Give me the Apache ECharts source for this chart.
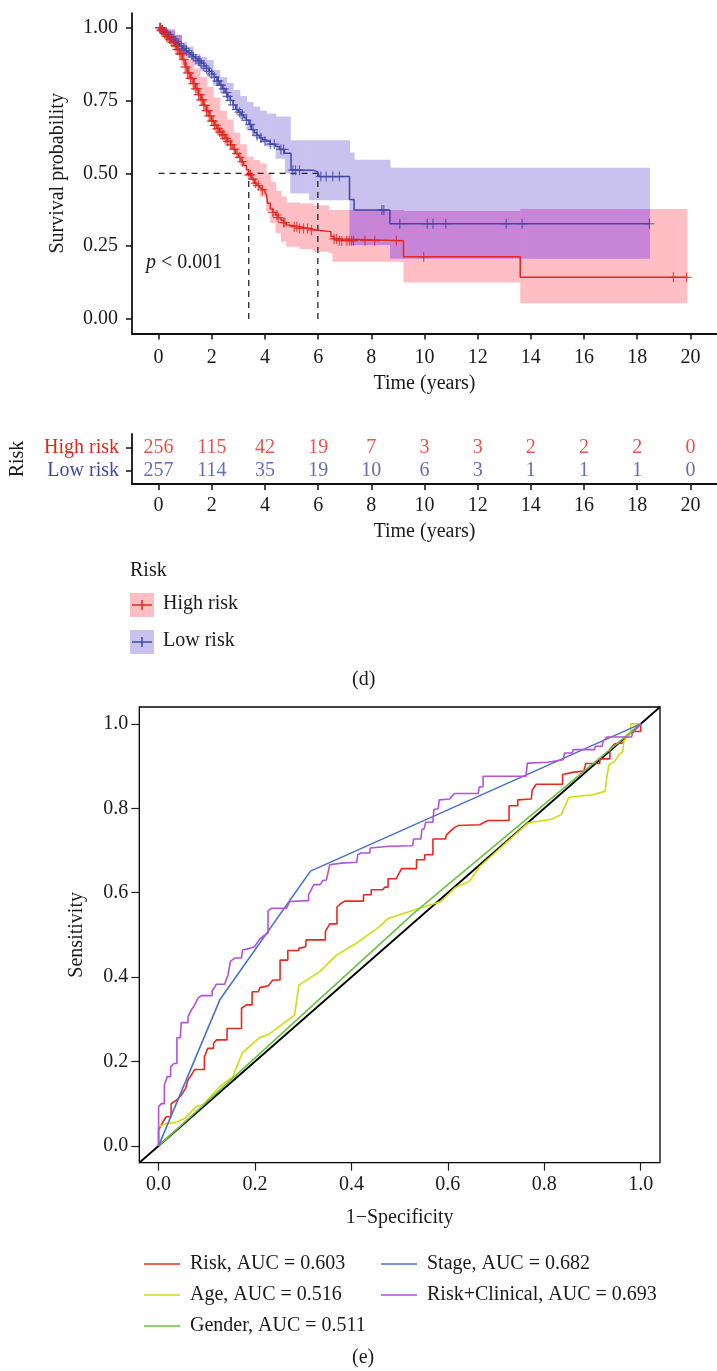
<!DOCTYPE html>
<html>
<head>
<meta charset="utf-8">
<script src="https://cdn.jsdelivr.net/npm/echarts@6/dist/echarts.min.js"></script>
<style>
html,body{margin:0;padding:0;background:#fff;}
#main{width:717px;height:1371px;}
</style>
</head>
<body>
<div id="main"></div>
<script>
// ---- KM data ----
var kmTicks = [0,2,4,6,8,10,12,14,16,18,20];
var survTicks = [0,0.25,0.5,0.75,1];
var highTimes = [0,0.1,0.2,0.3,0.4,0.5,0.6,0.7,0.8,0.9,1.0,1.1,1.2,1.3,1.4,1.5,1.6,1.7,1.8,1.9,2.0,2.1,2.2,2.3,2.4,2.5,2.6,2.7,2.8,2.9,3.0,3.1,3.2,3.3,3.39,3.5,3.6,3.7,3.8,3.9,4.0,4.06,4.1,4.2,4.3,4.4,4.5,4.6,4.7,4.8,4.9,5.3,5.65,5.98,6.48,6.6,6.8,9.21,13.6];
var highSurv  = [1,0.99,0.98,0.97,0.96,0.95,0.938,0.925,0.91,0.89,0.865,0.845,0.826,0.808,0.79,0.77,0.752,0.733,0.715,0.697,0.679,0.665,0.653,0.642,0.632,0.62,0.61,0.598,0.583,0.568,0.555,0.54,0.527,0.512,0.495,0.48,0.466,0.458,0.45,0.443,0.435,0.425,0.397,0.378,0.366,0.357,0.348,0.339,0.331,0.323,0.317,0.311,0.305,0.30,0.283,0.275,0.269,0.214,0.143];
var highEnd = 19.86;
var lowTimes = [0,0.1,0.2,0.3,0.4,0.5,0.6,0.7,0.8,0.9,1.0,1.1,1.2,1.3,1.4,1.5,1.6,1.7,1.8,1.9,2.0,2.1,2.2,2.3,2.4,2.5,2.6,2.7,2.8,2.9,3.0,3.1,3.2,3.3,3.4,3.5,3.6,3.7,3.8,3.9,4.0,4.2,4.4,4.55,4.73,4.98,5.79,5.98,6.04,7.18,7.35,8.7];
var lowSurv  = [1,0.992,0.985,0.977,0.969,0.961,0.953,0.945,0.937,0.929,0.921,0.914,0.907,0.9,0.893,0.886,0.878,0.869,0.86,0.85,0.841,0.83,0.817,0.803,0.79,0.777,0.764,0.75,0.735,0.719,0.71,0.701,0.692,0.682,0.668,0.65,0.639,0.63,0.622,0.615,0.61,0.6,0.592,0.582,0.569,0.511,0.506,0.50,0.489,0.41,0.374,0.327];
var lowEnd = 18.46;
// confidence bands: [start time, lower, upper]
var highBand = [[0,0.985,1],[0.3,0.955,0.99],[0.6,0.915,0.975],[0.85,0.87,0.94],[1.05,0.82,0.89],[1.3,0.78,0.86],[1.55,0.745,0.83],[1.8,0.705,0.797],[2.05,0.67,0.76],[2.3,0.635,0.715],[2.55,0.603,0.685],[2.8,0.565,0.64],[3.05,0.525,0.6],[3.3,0.489,0.557],[3.55,0.455,0.546],[3.8,0.42,0.534],[4.04,0.37,0.5],[4.2,0.33,0.47],[4.4,0.294,0.44],[4.6,0.265,0.42],[4.8,0.248,0.4],[5.3,0.24,0.397],[5.8,0.231,0.39],[6.4,0.225,0.374],[6.54,0.197,0.374],[9.21,0.125,0.371],[13.6,0.054,0.378]];
var lowBand = [[0,0.99,1],[0.3,0.965,0.995],[0.6,0.935,0.975],[0.85,0.91,0.95],[1.05,0.895,0.935],[1.3,0.87,0.91],[1.55,0.85,0.9],[1.8,0.832,0.889],[2.05,0.8,0.855],[2.3,0.775,0.83],[2.55,0.75,0.81],[2.8,0.72,0.786],[3.05,0.685,0.765],[3.3,0.648,0.745],[3.55,0.625,0.729],[3.8,0.605,0.715],[4.05,0.592,0.705],[4.4,0.55,0.695],[4.75,0.5,0.695],[4.95,0.431,0.614],[5.66,0.408,0.614],[7.18,0.254,0.572],[7.35,0.254,0.547],[8.7,0.207,0.519]];
var highCensor = [0.05,0.08,0.12,0.15,0.22,0.26,0.3,0.35,0.42,0.46,0.5,0.55,0.62,0.66,0.7,0.75,0.8,0.84,0.88,0.95,1.0,1.05,1.1,1.15,1.2,1.25,1.3,1.35,1.4,1.45,1.5,1.55,1.6,1.65,1.7,1.75,1.8,1.85,1.9,1.95,2.0,2.05,2.1,2.15,2.2,2.25,2.3,2.35,2.4,2.45,2.5,2.55,2.6,2.7,2.75,2.85,2.95,3.05,3.15,3.4,3.45,3.55,3.65,3.75,3.9,4.3,4.45,4.5,4.7,4.75,5.1,5.2,5.3,5.45,5.6,5.75,6.6,6.7,6.8,6.89,7.08,7.17,7.26,7.33,7.76,8.13,8.94,9.97,19.36,19.86];
var lowCensor = [0.05,0.1,0.15,0.2,0.28,0.35,0.4,0.45,0.55,0.6,0.65,0.75,0.85,0.95,1.05,1.15,1.25,1.3,1.4,1.5,1.55,1.6,1.7,1.8,1.9,2.0,2.1,2.2,2.25,2.35,2.45,2.55,2.6,2.7,2.8,2.95,3.05,3.15,3.3,3.45,3.55,3.7,3.85,4.0,4.2,4.35,4.6,4.7,5.05,5.15,5.3,6.1,6.3,6.55,6.8,8.4,8.47,9.07,10.1,10.32,10.8,13.07,13.67,18.46];
var medianTimes = [3.39, 5.99];
// number at risk
var highAtRisk = [256,115,42,19,7,3,3,2,2,2,0];
var lowAtRisk  = [257,114,35,19,10,6,3,1,1,1,0];

// ---- ROC data ----
var rocTicks = [0,0.2,0.4,0.6,0.8,1];
var rocRisk = [[0,0],[0,0.037],[0.002,0.037],[0.009,0.057],[0.016,0.069],[0.026,0.069],[0.026,0.1],[0.037,0.108],[0.047,0.12],[0.056,0.136],[0.061,0.156],[0.068,0.168],[0.075,0.181],[0.095,0.181],[0.095,0.211],[0.102,0.231],[0.114,0.231],[0.114,0.243],[0.12,0.251],[0.142,0.251],[0.142,0.278],[0.172,0.278],[0.172,0.326],[0.182,0.334],[0.194,0.334],[0.194,0.365],[0.207,0.365],[0.21,0.375],[0.227,0.379],[0.237,0.393],[0.252,0.393],[0.252,0.44],[0.268,0.44],[0.268,0.463],[0.291,0.463],[0.291,0.468],[0.305,0.472],[0.306,0.488],[0.346,0.488],[0.346,0.508],[0.355,0.526],[0.37,0.526],[0.37,0.566],[0.379,0.575],[0.386,0.58],[0.425,0.58],[0.425,0.595],[0.441,0.595],[0.441,0.607],[0.465,0.607],[0.469,0.613],[0.476,0.613],[0.476,0.633],[0.493,0.633],[0.497,0.642],[0.504,0.657],[0.535,0.657],[0.535,0.678],[0.552,0.678],[0.552,0.69],[0.569,0.69],[0.569,0.727],[0.595,0.727],[0.597,0.737],[0.612,0.753],[0.621,0.759],[0.666,0.761],[0.683,0.771],[0.727,0.771],[0.727,0.806],[0.745,0.806],[0.745,0.82],[0.773,0.822],[0.775,0.843],[0.783,0.857],[0.838,0.857],[0.838,0.88],[0.858,0.885],[0.882,0.888],[0.886,0.906],[0.915,0.906],[0.915,0.917],[0.936,0.917],[0.936,0.94],[0.946,0.953],[0.963,0.955],[0.966,0.965],[0.983,0.982],[1,0.982],[1,1]];
var rocAge = [[0,0],[0,0.045],[0.016,0.053],[0.033,0.055],[0.054,0.065],[0.078,0.093],[0.092,0.097],[0.127,0.14],[0.154,0.164],[0.174,0.221],[0.21,0.257],[0.227,0.263],[0.282,0.31],[0.291,0.381],[0.334,0.413],[0.369,0.452],[0.41,0.48],[0.459,0.52],[0.476,0.539],[0.541,0.563],[0.586,0.579],[0.614,0.611],[0.645,0.627],[0.666,0.662],[0.766,0.765],[0.815,0.774],[0.835,0.785],[0.851,0.826],[0.9,0.832],[0.926,0.84],[0.929,0.868],[0.934,0.903],[0.946,0.911],[0.955,0.927],[0.963,0.935],[0.965,0.959],[0.979,0.978],[0.979,1],[1,1]];
var rocGender = [[0,0],[0.53,0.552],[1,1]];
var rocStage = [[0,0],[0.127,0.346],[0.315,0.651],[1,1]];
var rocCombined = [[0,0],[0,0.093],[0.006,0.1],[0.012,0.1],[0.012,0.144],[0.018,0.164],[0.025,0.164],[0.025,0.187],[0.032,0.195],[0.038,0.195],[0.038,0.256],[0.045,0.256],[0.047,0.292],[0.061,0.292],[0.061,0.306],[0.068,0.322],[0.075,0.334],[0.082,0.35],[0.089,0.356],[0.111,0.356],[0.111,0.367],[0.12,0.383],[0.137,0.383],[0.14,0.393],[0.144,0.405],[0.149,0.437],[0.158,0.445],[0.172,0.445],[0.174,0.464],[0.189,0.468],[0.199,0.472],[0.203,0.476],[0.21,0.49],[0.216,0.496],[0.227,0.504],[0.227,0.557],[0.234,0.563],[0.265,0.563],[0.272,0.579],[0.311,0.581],[0.311,0.595],[0.322,0.619],[0.335,0.619],[0.341,0.629],[0.348,0.63],[0.355,0.666],[0.379,0.67],[0.411,0.672],[0.413,0.69],[0.42,0.694],[0.438,0.694],[0.439,0.706],[0.479,0.71],[0.527,0.711],[0.529,0.727],[0.544,0.727],[0.546,0.749],[0.551,0.752],[0.554,0.767],[0.569,0.767],[0.571,0.797],[0.58,0.799],[0.582,0.82],[0.604,0.822],[0.607,0.827],[0.614,0.835],[0.663,0.835],[0.665,0.85],[0.673,0.851],[0.673,0.876],[0.762,0.876],[0.765,0.907],[0.807,0.909],[0.81,0.913],[0.839,0.915],[0.842,0.931],[0.858,0.931],[0.86,0.939],[0.904,0.939],[0.906,0.947],[0.92,0.947],[0.922,0.959],[0.93,0.969],[0.981,0.969],[0.983,0.978],[1,1]];
var rocNames = ['Risk, AUC = 0.603','Age, AUC = 0.516','Gender, AUC = 0.511','Stage, AUC = 0.682','Risk+Clinical, AUC = 0.693'];

var FONT = 'Liberation Serif';
var RED = '#E0281F', BLUE = '#3F48A5';
var PINK = '#FFBEC3', LAV = '#CAC2EE', OVER = '#C884D6';

function stepLine(ts, ss, end){
	var d = [];
	for (var i = 0; i < ts.length; i++) d.push([ts[i], ss[i]]);
	d.push([end, ss[ss.length-1]]);
	return d;
}
function survAt(ts, ss, t){
	var s = ss[0];
	for (var i = 0; i < ts.length; i++) { if (ts[i] <= t) s = ss[i]; }
	return s;
}
function censorPts(list, ts, ss){
	return list.map(function(t){ return [t, survAt(ts, ss, t)]; });
}
function bandAt(band, t){
	var b = band[0];
	for (var i = 0; i < band.length; i++) { if (band[i][0] <= t) b = band[i]; }
	return b;
}
function bandRects(band, end){
	var d = [];
	for (var i = 0; i < band.length; i++) {
		var t1 = i < band.length-1 ? band[i+1][0] : end;
		d.push([band[i][0], t1, band[i][1], band[i][2]]);
	}
	return d;
}
// overlap of the two bands (shown purple)
function overlapRects(a, endA, b, endB){
	var end = Math.min(endA, endB);
	var ts = [];
	a.concat(b).forEach(function(r){ if (r[0] < end && ts.indexOf(r[0]) < 0) ts.push(r[0]); });
	ts.sort(function(x,y){return x-y;});
	var d = [];
	for (var i = 0; i < ts.length; i++) {
		var t1 = i < ts.length-1 ? ts[i+1] : end;
		var ra = bandAt(a, ts[i]), rb = bandAt(b, ts[i]);
		var lo = Math.max(ra[1], rb[1]), hi = Math.min(ra[2], rb[2]);
		if (hi > lo) d.push([ts[i], t1, lo, hi]);
	}
	return d;
}
function rectItem(color){
	return function(params, api){
		var p0 = api.coord([api.value(0), api.value(3)]);
		var p1 = api.coord([api.value(1), api.value(2)]);
		return {type: 'rect', shape: {x: p0[0], y: p0[1], width: p1[0]-p0[0]+0.6, height: p1[1]-p0[1]},
			style: {fill: color}};
	};
}
var PLUS = 'path://M4.4,0h1.2v4.4h4.4v1.2h-4.4v4.4h-1.2v-4.4h-4.4v-1.2h4.4z';

function tableData(vals, row){
	return kmTicks.map(function(t, i){ return [t, row, vals[i]]; });
}

var axisCol = '#111';
var txt = {fontFamily: FONT, fontSize: 20, color: '#1a1a1a'};

var myChart = echarts.init(document.getElementById('main'));
var option = {
	backgroundColor: '#fff',
	animation: false,
	textStyle: {fontFamily: FONT},
	grid: [
		{left: 132, top: 13.1, width: 588.5, height: 320.5},
		{left: 132, top: 434, width: 588.5, height: 50},
		{left: 139.3, top: 707, width: 520.7, height: 455.7, show: true, borderColor: '#000', borderWidth: 1.3, backgroundColor: 'transparent'}
	],
	xAxis: [
		{gridIndex: 0, type: 'value', min: -1, max: 21, name: 'Time (years)', nameLocation: 'middle', nameGap: 40, nameTextStyle: txt,
		 axisLine: {onZero: false, lineStyle: {color: axisCol, width: 1.8}}, splitLine: {show: false},
		 axisTick: {customValues: kmTicks, length: 6, lineStyle: {color: axisCol, width: 1.5}},
		 axisLabel: {customValues: kmTicks, margin: 14, fontFamily: FONT, fontSize: 20, color: '#1a1a1a'}},
		{gridIndex: 1, type: 'value', min: -1, max: 21, name: 'Time (years)', nameLocation: 'middle', nameGap: 38, nameTextStyle: txt,
		 axisLine: {onZero: false, lineStyle: {color: axisCol, width: 1.8}}, splitLine: {show: false},
		 axisTick: {customValues: kmTicks, length: 6, lineStyle: {color: axisCol, width: 1.5}},
		 axisLabel: {customValues: kmTicks, margin: 12, fontFamily: FONT, fontSize: 20, color: '#1a1a1a'}},
		{gridIndex: 2, type: 'value', min: -0.04, max: 1.04, name: '1\u2212Specificity', nameLocation: 'middle', nameGap: 45, nameTextStyle: txt,
		 axisLine: {onZero: false, show: false}, splitLine: {show: false},
		 axisTick: {customValues: rocTicks, length: 8, lineStyle: {color: '#222', width: 1.2}},
		 axisLabel: {customValues: rocTicks, margin: 12, fontFamily: FONT, fontSize: 20, color: '#1a1a1a', formatter: function(v){return v.toFixed(1);}}}
	],
	yAxis: [
		{gridIndex: 0, type: 'value', min: -0.05, max: 1.05, name: 'Survival probability', nameLocation: 'middle', nameGap: 64, nameTextStyle: txt,
		 axisLine: {onZero: false, lineStyle: {color: axisCol, width: 1.8}}, splitLine: {show: false},
		 axisTick: {customValues: survTicks, length: 6, lineStyle: {color: axisCol, width: 1.5}},
		 axisLabel: {customValues: survTicks, margin: 14, fontFamily: FONT, fontSize: 20, color: '#1a1a1a', formatter: function(v){return v.toFixed(2);}}},
		{gridIndex: 1, type: 'value', min: 0.4, max: 2.6, name: 'Risk', nameLocation: 'middle', nameGap: 104, nameTextStyle: txt,
		 axisLine: {onZero: false, lineStyle: {color: axisCol, width: 1.8}}, splitLine: {show: false},
		 axisTick: {customValues: [1,2], length: 6, lineStyle: {color: axisCol, width: 1.5}},
		 axisLabel: {customValues: [1,2], margin: 13, fontFamily: FONT, fontSize: 20,
			formatter: function(v){ return v === 2 ? '{h|High risk}' : '{l|Low risk}'; },
			rich: {h: {color: RED, fontFamily: FONT, fontSize: 20}, l: {color: BLUE, fontFamily: FONT, fontSize: 20}}}},
		{gridIndex: 2, type: 'value', min: -0.04, max: 1.04, name: 'Sensitivity', nameLocation: 'middle', nameGap: 53, nameTextStyle: txt,
		 axisLine: {onZero: false, show: false}, splitLine: {show: false},
		 axisTick: {customValues: rocTicks, length: 8, lineStyle: {color: '#222', width: 1.2}},
		 axisLabel: {customValues: rocTicks, margin: 11, fontFamily: FONT, fontSize: 20, color: '#1a1a1a', formatter: function(v){return v.toFixed(1);}}}
	],
	legend: [
		{data: rocNames.slice(0,3), orient: 'vertical', left: 139, top: 1249, itemWidth: 36, itemHeight: 1.6, itemGap: 11, icon: 'rect',
		 textStyle: {fontFamily: FONT, fontSize: 20, lineHeight: 20, color: '#1a1a1a', padding: [0,0,0,5]}},
		{data: rocNames.slice(3), orient: 'vertical', left: 376, top: 1249, itemWidth: 36, itemHeight: 1.6, itemGap: 11, icon: 'rect',
		 textStyle: {fontFamily: FONT, fontSize: 20, lineHeight: 20, color: '#1a1a1a', padding: [0,0,0,5]}}
	],
	series: [
		{type: 'custom', xAxisIndex: 0, yAxisIndex: 0, renderItem: rectItem(PINK), data: bandRects(highBand, highEnd), encode: {x: [0,1], y: [2,3]}, silent: true, z: 1},
		{type: 'custom', xAxisIndex: 0, yAxisIndex: 0, renderItem: rectItem(LAV), data: bandRects(lowBand, lowEnd), encode: {x: [0,1], y: [2,3]}, silent: true, z: 1},
		{type: 'custom', xAxisIndex: 0, yAxisIndex: 0, renderItem: rectItem(OVER), data: overlapRects(highBand, highEnd, lowBand, lowEnd), encode: {x: [0,1], y: [2,3]}, silent: true, z: 1},
		{type: 'line', xAxisIndex: 0, yAxisIndex: 0, data: [[0,0.5],[medianTimes[1],0.5]], showSymbol: false, lineStyle: {color: '#222', width: 1.3, type: [6,5]}, z: 2},
		{type: 'line', xAxisIndex: 0, yAxisIndex: 0, data: [[medianTimes[0],0],[medianTimes[0],0.5]], showSymbol: false, lineStyle: {color: '#222', width: 1.3, type: [6,5]}, z: 2},
		{type: 'line', xAxisIndex: 0, yAxisIndex: 0, data: [[medianTimes[1],0],[medianTimes[1],0.5]], showSymbol: false, lineStyle: {color: '#222', width: 1.3, type: [6,5]}, z: 2},
		{name: 'Low risk', type: 'line', step: 'end', xAxisIndex: 0, yAxisIndex: 0, data: stepLine(lowTimes, lowSurv, lowEnd), showSymbol: false, lineStyle: {color: BLUE, width: 1.5}, itemStyle: {color: BLUE}, z: 3},
		{name: 'High risk', type: 'line', step: 'end', xAxisIndex: 0, yAxisIndex: 0, data: stepLine(highTimes, highSurv, highEnd), showSymbol: false, lineStyle: {color: RED, width: 1.5}, itemStyle: {color: RED}, z: 3},
		{type: 'scatter', xAxisIndex: 0, yAxisIndex: 0, data: censorPts(lowCensor, lowTimes, lowSurv), symbol: PLUS, symbolSize: 10, itemStyle: {color: BLUE}, z: 4},
		{type: 'scatter', xAxisIndex: 0, yAxisIndex: 0, data: censorPts(highCensor, highTimes, highSurv), symbol: PLUS, symbolSize: 10, itemStyle: {color: RED}, z: 4},
		// number at risk table
		{type: 'scatter', xAxisIndex: 1, yAxisIndex: 1, data: tableData(highAtRisk, 2), symbolSize: 1, itemStyle: {color: 'transparent'},
		 label: {show: true, position: 'inside', formatter: function(p){return p.data[2];}, fontFamily: FONT, fontSize: 20, color: RED}},
		{type: 'scatter', xAxisIndex: 1, yAxisIndex: 1, data: tableData(lowAtRisk, 1), symbolSize: 1, itemStyle: {color: 'transparent'},
		 label: {show: true, position: 'inside', formatter: function(p){return p.data[2];}, fontFamily: FONT, fontSize: 20, color: BLUE}},
		// ROC
		{type: 'line', xAxisIndex: 2, yAxisIndex: 2, data: [[-0.04,-0.04],[1.04,1.04]], showSymbol: false, lineStyle: {color: '#000', width: 1.8}, z: 2},
		{name: rocNames[0], type: 'line', xAxisIndex: 2, yAxisIndex: 2, data: rocRisk, showSymbol: false, lineStyle: {color: '#E8291F', width: 1.6}, itemStyle: {color: '#E8291F'}, z: 3},
		{name: rocNames[1], type: 'line', xAxisIndex: 2, yAxisIndex: 2, data: rocAge, showSymbol: false, lineStyle: {color: '#D2DD0A', width: 1.6}, itemStyle: {color: '#D2DD0A'}, z: 3},
		{name: rocNames[2], type: 'line', xAxisIndex: 2, yAxisIndex: 2, data: rocGender, showSymbol: false, lineStyle: {color: '#6BC141', width: 1.6}, itemStyle: {color: '#6BC141'}, z: 3},
		{name: rocNames[3], type: 'line', xAxisIndex: 2, yAxisIndex: 2, data: rocStage, showSymbol: false, lineStyle: {color: '#4A72C8', width: 1.6}, itemStyle: {color: '#4A72C8'}, z: 3},
		{name: rocNames[4], type: 'line', xAxisIndex: 2, yAxisIndex: 2, data: rocCombined, showSymbol: false, lineStyle: {color: '#B352D6', width: 1.6}, itemStyle: {color: '#B352D6'}, z: 3}
	],
	graphic: [
		{type: 'text', left: 146, top: 253, style: {text: '{i|p} < 0.001', rich: {i: {fontStyle: 'italic', fontFamily: FONT, fontSize: 20}}, fontFamily: FONT, fontSize: 20, fill: '#1a1a1a'}},
		// KM legend
		{type: 'text', left: 130, top: 561, style: {text: 'Risk', fontFamily: FONT, fontSize: 20, fill: '#1a1a1a'}},
		{type: 'rect', shape: {x: 130, y: 593, width: 24, height: 24}, style: {fill: PINK}},
		{type: 'line', shape: {x1: 132, y1: 605, x2: 152, y2: 605}, style: {stroke: RED, lineWidth: 1.5}},
		{type: 'line', shape: {x1: 142, y1: 600, x2: 142, y2: 610}, style: {stroke: RED, lineWidth: 1.5}},
		{type: 'text', left: 163, top: 594, style: {text: 'High risk', fontFamily: FONT, fontSize: 20, fill: '#1a1a1a'}},
		{type: 'rect', shape: {x: 130, y: 630, width: 24, height: 24}, style: {fill: LAV}},
		{type: 'line', shape: {x1: 132, y1: 642, x2: 152, y2: 642}, style: {stroke: BLUE, lineWidth: 1.5}},
		{type: 'line', shape: {x1: 142, y1: 637, x2: 142, y2: 647}, style: {stroke: BLUE, lineWidth: 1.5}},
		{type: 'text', left: 163, top: 631, style: {text: 'Low risk', fontFamily: FONT, fontSize: 20, fill: '#1a1a1a'}},
		{type: 'text', left: 352, top: 670, style: {text: '(d)', fontFamily: FONT, fontSize: 20, fill: '#1a1a1a'}},
		{type: 'text', left: 352, top: 1348, style: {text: '(e)', fontFamily: FONT, fontSize: 20, fill: '#1a1a1a'}}
	]
};
myChart.setOption(option);
</script>
</body>
</html>
